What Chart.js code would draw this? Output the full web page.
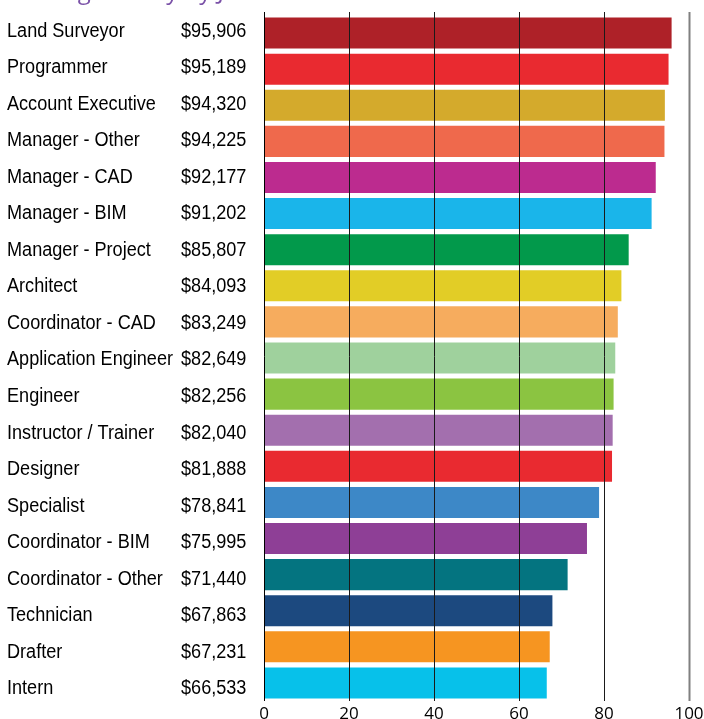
<!DOCTYPE html>
<html>
<head>
<meta charset="utf-8">
<script src="https://cdn.jsdelivr.net/npm/chart.js@4"></script>
<style>
  html, body { margin: 0; padding: 0; background: #fff; }
  #wrap { width: 704px; height: 719px; position: relative; }
</style>
</head>
<body>
<div id="wrap"><canvas id="myChart" width="704" height="719"></canvas></div>
<script>
// data
let jobTitles = ['Land Surveyor', 'Programmer', 'Account Executive', 'Manager - Other', 'Manager - CAD',
  'Manager - BIM', 'Manager - Project', 'Architect', 'Coordinator - CAD', 'Application Engineer',
  'Engineer', 'Instructor / Trainer', 'Designer', 'Specialist', 'Coordinator - BIM',
  'Coordinator - Other', 'Technician', 'Drafter', 'Intern']
let salaryText = ['$95,906', '$95,189', '$94,320', '$94,225', '$92,177', '$91,202', '$85,807', '$84,093',
  '$83,249', '$82,649', '$82,256', '$82,040', '$81,888', '$78,841', '$75,995', '$71,440', '$67,863',
  '$67,231', '$66,533']
// bar length in thousands of dollars
let salaryK = [95.906, 95.189, 94.320, 94.225, 92.177, 91.202, 85.807, 84.093, 83.249, 82.649,
  82.256, 82.040, 81.888, 78.841, 75.995, 71.440, 67.863, 67.231, 66.533]
let xTicks = [0, 20, 40, 60, 80, 100]
let barColors = ['#ae2128', '#e92a30', '#d4aa2c', '#ef694c', '#bc2b8f', '#1ab5ea', '#02994b', '#e2cd26',
  '#f6ac5e', '#9fd19d', '#8bc441', '#a36fae', '#e92a30', '#3d88c7', '#8e3f96', '#047480', '#1c497f',
  '#f69521', '#07c1ea']
let titleText = 'Average Salary by Job Title'

const labelFont = '20px "Liberation Sans", Arial, sans-serif'

// draw text squeezed sideways, the original uses a narrow face
function narrowText(c, txt, x, y, sx) {
  c.save()
  c.translate(x, y)
  c.scale(sx, 1)
  c.fillText(txt, 0, 0)
  c.restore()
}

// grid lines go over the bars in the picture, so draw them after the datasets
const overGrid = {
  id: 'overGrid',
  afterDatasetsDraw(chart) {
    let c = chart.ctx
    let x = chart.scales.x
    let area = chart.chartArea
    c.save()
    xTicks.forEach((t) => {
      let px = Math.round(x.getPixelForValue(t)) + 0.5
      c.beginPath()
      c.strokeStyle = t === 100 ? '#808080' : (t === 0 ? '#000' : '#1a1a1a')
      c.lineWidth = t === 100 ? 2 : 1
      c.moveTo(px, area.top - 3)
      c.lineTo(px, area.bottom)
      c.stroke()
    })
    c.restore()
  },
  afterDraw(chart) {
    let c = chart.ctx
    let y = chart.scales.y
    c.save()
    c.fillStyle = '#000'
    c.font = labelFont
    c.textBaseline = 'middle'
    c.textAlign = 'left'
    // fit the longest title into the same width as the reference
    let sx = 166 / c.measureText('Application Engineer').width
    let y0 = y.getPixelForValue(0)
    jobTitles.forEach((name, i) => {
      // text rows are spread a touch wider than the bars in the original
      let py = 31 + (y.getPixelForValue(i) - y0) * 1.0123
      narrowText(c, name, 7, py, sx)
      narrowText(c, salaryText[i], 181, py, sx)
    })
    // title sits above the crop, only its descenders show
    c.fillStyle = '#7b52a8'
    c.font = '24px "Open Sans", sans-serif'
    c.textBaseline = 'alphabetic'
    c.fillText(titleText, 14, -1)
    c.restore()
  }
}

const ctx = document.getElementById('myChart').getContext('2d')
let myChart = new Chart(ctx, {
  type: 'bar',
  data: {
    labels: jobTitles,
    datasets: [{
      data: salaryK,
      backgroundColor: barColors,
      borderWidth: 0,
      barPercentage: 0.86,
      categoryPercentage: 1
    }]
  },
  options: {
    indexAxis: 'y',
    responsive: false,
    animation: false,
    layout: { padding: { left: 264, right: 15, top: 15, bottom: 0 } },
    plugins: {
      legend: { display: false },
      tooltip: { enabled: false }
    },
    scales: {
      x: {
        min: 0,
        max: 100,
        afterBuildTicks: (axis) => { axis.ticks = xTicks.map((v) => ({ value: v })) },
        afterFit: (axis) => {
          axis.height = 18
          axis.paddingLeft = 0
          axis.paddingRight = 0
        },
        grid: { display: false, drawTicks: false },
        border: { display: false },
        ticks: {
          color: '#000',
          padding: 3,
          maxRotation: 0,
          font: { family: '"Open Sans", sans-serif', size: 17 }
        }
      },
      y: {
        display: false
      }
    }
  },
  plugins: [overGrid]
})
</script>
</body>
</html>
